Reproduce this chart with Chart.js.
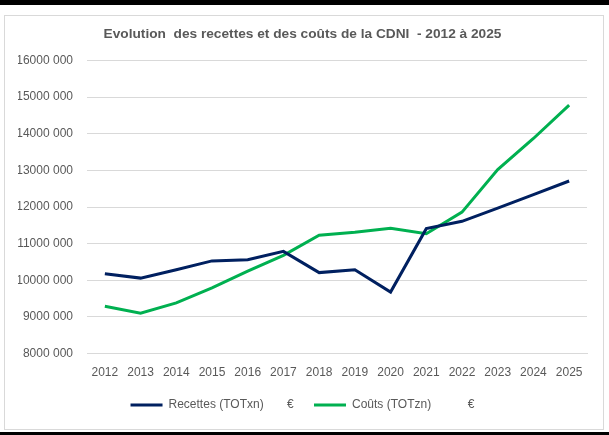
<!DOCTYPE html>
<html>
<head>
<meta charset="utf-8">
<script src="https://cdn.jsdelivr.net/npm/chart.js@4.4.1/dist/chart.umd.min.js"></script>
<style>
  body { margin: 0; background: #fff; }
  #page { position: relative; width: 609px; height: 435px; overflow: hidden; }
  #topbar { position: absolute; left: 0; top: 0; width: 609px; height: 5px; background: #000; }
  #botbar { position: absolute; left: 0; top: 432px; width: 609px; height: 3px; background: #000; }
  #box { position: absolute; left: 4px; top: 15px; width: 598px; height: 413px; border: 1px solid #d9d9d9; }
</style>
</head>
<body>
<div id="page">
  <div id="topbar"></div>
  <div id="box"><canvas id="myChart" width="598" height="413"></canvas></div>
  <div id="botbar"></div>
</div>
<script>
const years = ['2012','2013','2014','2015','2016','2017','2018','2019','2020','2021','2022','2023','2024','2025']
const recettes = [10180000, 10060000, 10290000, 10530000, 10560000, 10790000, 10210000, 10290000, 9680000, 11410000, 11610000, 11970000, 12340000, 12710000]
const couts = [9290000, 9100000, 9385000, 9795000, 10250000, 10680000, 11230000, 11310000, 11420000, 11270000, 11860000, 13020000, 13870000, 14780000]
const seriesNames = ['Recettes (TOTxn)       €    ', 'Coûts (TOTzn)           €']

const grey = '#595959'
Chart.defaults.font.family = '"Liberation Sans", Arial, sans-serif'
Chart.defaults.font.size = 12
Chart.defaults.color = grey

const ctx = document.getElementById('myChart');
new Chart(ctx, {
  type: 'line',
  data: {
    labels: years,
    datasets: [{
      label: seriesNames[0],
      data: recettes,
      borderColor: '#002060',
      backgroundColor: '#002060',
      borderWidth: 3,
      pointRadius: 0,
      tension: 0
    }, {
      label: seriesNames[1],
      data: couts,
      borderColor: '#00b050',
      backgroundColor: '#00b050',
      borderWidth: 3,
      pointRadius: 0,
      tension: 0
    }]
  },
  options: {
    responsive: false,
    animation: false,
    layout: { padding: { left: 13, right: 16, top: 0, bottom: 8 } },
    plugins: {
      title: {
        display: true,
        text: 'Evolution  des recettes et des coûts de la CDNI  - 2012 à 2025',
        color: grey,
        font: { size: 13.7, weight: 'bold' },
        padding: { top: 10, bottom: 18 }
      },
      legend: {
        position: 'bottom',
        labels: {
          usePointStyle: true,
          pointStyle: 'line',
          pointStyleWidth: 32,
          padding: 7,
          color: grey,
          font: { size: 12 }
        }
      },
      tooltip: { enabled: false }
    },
    scales: {
      x: {
        offset: true,
        grid: { display: false, drawTicks: false },
        border: { display: true, color: '#d9d9d9' },
        ticks: { padding: 12, color: grey, maxRotation: 0 }
      },
      y: {
        min: 8000000,
        max: 16000000,
        grid: { color: '#d9d9d9', drawTicks: false },
        border: { display: false },
        afterFit: scale => { scale.width = 69 },
        ticks: {
          stepSize: 1000000,
          padding: 14,
          color: grey,
          callback: v => (v / 1000) + ' 000'
        }
      }
    }
  }
});
</script>
</body>
</html>
